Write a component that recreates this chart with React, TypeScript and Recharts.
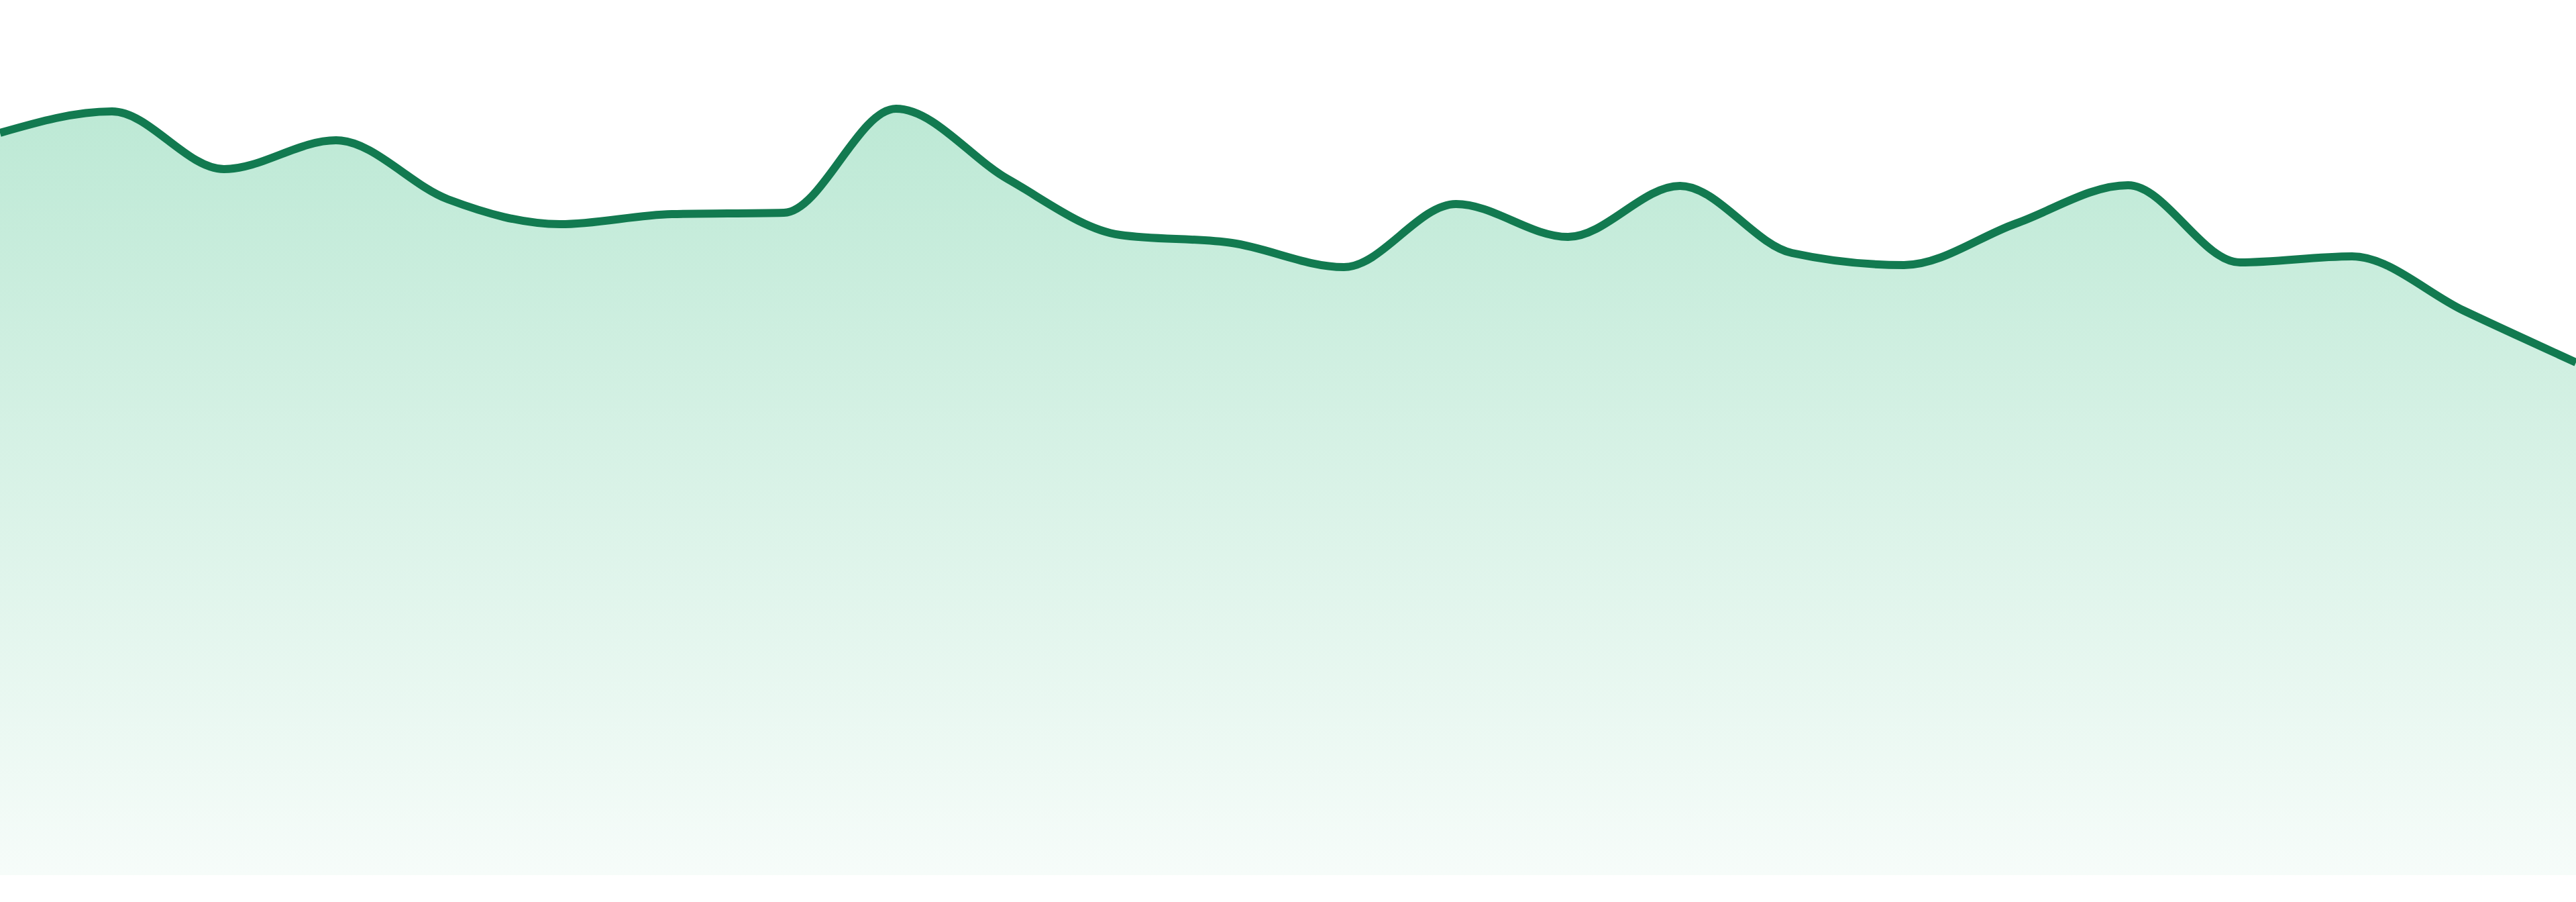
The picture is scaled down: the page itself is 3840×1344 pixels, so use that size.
import { Area, AreaChart, XAxis, YAxis } from "recharts";

// Values (no axis shown, arbitrary units)
const days = [
  "1", "2", "3", "4", "5", "6", "7", "8", "9", "10", "11", "12",
  "13", "14", "15", "16", "17", "18", "19", "20", "21", "22", "23", "24",
];
const values = [
  110.6, 113.8, 105.2, 109.5, 100.7, 97.0, 98.5, 98.7, 114.2, 103.7, 95.4, 94.2,
  90.6, 100.0, 95.1, 102.7, 92.7, 90.9, 97.1, 102.8, 91.3, 92.2, 84.1, 76.4,
];
const yDomain = [0, 130];

const data = days.map((day, i) => ({ day, value: values[i] }));

export default function App() {
  return (
    <div style={{ width: 3840, height: 1344, background: "#ffffff" }}>
      <style>{"body{margin:0}"}</style>
      <AreaChart width={3840} height={1344} data={data} margin={{ top: 4, right: 0, bottom: 40, left: 0 }}>
        <defs>
          <linearGradient id="fillGreen" x1="0" y1="0" x2="0" y2="1">
            <stop offset="0%" stopColor="#22b573" stopOpacity={0.3} />
            <stop offset="100%" stopColor="#22b573" stopOpacity={0.04} />
          </linearGradient>
        </defs>
        <XAxis dataKey="day" hide padding={{ left: 0, right: 0 }} />
        <YAxis hide domain={yDomain} />
        <Area
          type="monotone"
          dataKey="value"
          stroke="#127a50"
          strokeWidth={12}
          fill="url(#fillGreen)"
          fillOpacity={1}
          dot={false}
          activeDot={false}
          isAnimationActive={false}
        />
      </AreaChart>
    </div>
  );
}
